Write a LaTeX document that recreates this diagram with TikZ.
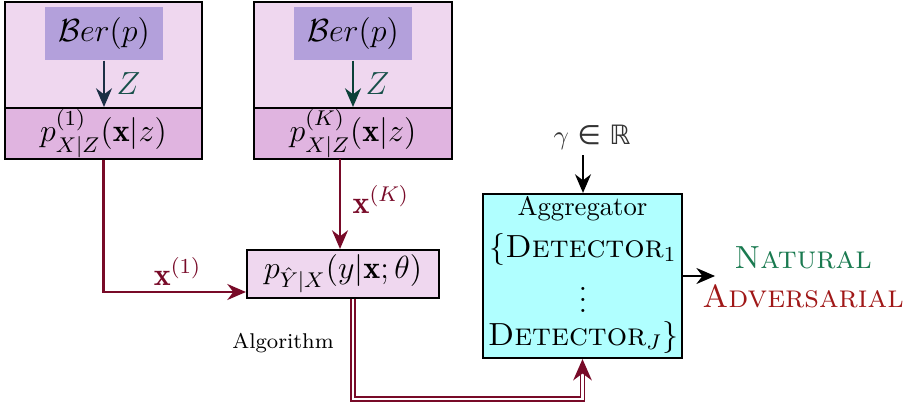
\documentclass[tikz,border=0pt]{standalone}
\usepackage{amsmath,amssymb}
\usepackage{fontspec}
\newfontfamily\djv{DejaVu Sans}
\usetikzlibrary{arrows.meta,calc}
\definecolor{outerfill}{HTML}{EFD7EF}
\definecolor{lowerfill}{HTML}{E0B4E0}
\definecolor{berfill}{HTML}{B3A0DB}
\definecolor{maroonc}{HTML}{780A28}
\definecolor{navyc}{HTML}{1B2F45}
\definecolor{tealc}{HTML}{0B4038}
\definecolor{zc}{HTML}{17504A}
\definecolor{cyanfill}{HTML}{B0FFFF}
\definecolor{natc}{HTML}{1A7A50}
\definecolor{advc}{HTML}{A01818}
\definecolor{gammac}{HTML}{333333}
\tikzset{
  boxa/.style={draw=black, line width=0.8pt, fill=outerfill, inner sep=0pt},
  boxb/.style={draw=black, line width=0.8pt, fill=lowerfill, inner sep=0pt, font=\large},
  berbox/.style={fill=berfill, inner sep=0pt, minimum width=44.25pt, minimum height=19.9pt, font=\large},
  conn/.style={draw=maroonc, line width=0.8pt, -{Stealth[length=7pt,width=6pt]}},
  zarrow/.style={line width=0.8pt, -{Stealth[length=7pt,width=6pt]}},
  blk/.style={draw=black, line width=0.7pt, -{Stealth[length=7pt,width=6pt]}},
  aggtxt/.style={inner sep=0pt, font=\large},
}
\begin{document}
\begin{tikzpicture}[x=0.375pt,y=-0.375pt]
\useasboundingbox (0,0) rectangle (904,406);
% left group
\node[boxa, minimum width=73.9pt, minimum height=39.75pt] (u1) at (103.5,55) {};
\node[boxb, minimum width=73.9pt, minimum height=19.1pt] (l1) at (103.5,133.5) {$p^{(1)}_{X|Z}(\mathbf{x}|z)$};
\node[berbox] (b1) at (104,33.5) {$\mathcal{B}er(p)$};
\draw[zarrow, navyc] (b1.south) -- (b1.south |- l1.north) node[midway, right, text=zc, xshift=1pt, font=\large] {$Z$};
% right group
\node[boxa, minimum width=74.25pt, minimum height=39.75pt] (uK) at (353,55) {};
\node[boxb, minimum width=74.25pt, minimum height=19.1pt] (lK) at (353,133.5) {$p^{(K)}_{X|Z}(\mathbf{x}|z)$};
\node[berbox] (bK) at (353,33.5) {$\mathcal{B}er(p)$};
\draw[zarrow, tealc] (bK.south) -- (bK.south |- lK.north) node[midway, right, text=zc, xshift=1pt, font=\large] {$Z$};
% middle
\node[boxa, minimum width=72pt, minimum height=18pt, font=\large] (mid) at (343,274) {$p_{\hat{Y}|X}(y|\mathbf{x};\theta)$};
\coordinate (kx) at (340,159);
\draw[conn] (kx) -- (kx |- mid.north) node[pos=0.45, right, text=maroonc, xshift=1pt, font=\large] {$\mathbf{x}^{(K)}$};
\draw[conn] (l1.south) |- ([yshift=-6.75pt]mid.west) node[pos=0.76, above, text=maroonc, font=\large, inner sep=2pt] {$\mathbf{x}^{(1)}$};
\node[font=\footnotesize] (alg) at (283,343) {Algorithm};
% aggregator
\node[draw=black, line width=0.8pt, fill=cyanfill, minimum width=74.6pt, minimum height=61.5pt, inner sep=0pt] (agg) at (582.5,276) {};
\node[inner sep=0pt] (aggl) at (582.5,209) {Aggregator};
\node[aggtxt] (d1) at (583,249) {$\{$\textsc{Detector}$_1$};
\node[aggtxt] (dd) at (583,292) {$\vdots$};
\node[aggtxt] (dJ) at (583,337) {\textsc{Detector}$_J\}$};
\node[text=gammac] (gam) at (592,137) {$\gamma$ {\djv ∈ ℝ}};
\coordinate (gx) at (583,155);
\draw[blk] (gx) -- (gx |- agg.north);
\draw[blk] (agg.east) -- ++(32,0);
\node[text=natc, font=\large] (nat) at (803,258) {\textsc{Natural}};
\node[text=advc, font=\large] (adv) at (803,296) {\textsc{Adversarial}};
% double line
\coordinate (dx) at ([xshift=3.75pt]mid.south);
\draw[draw=maroonc, double=white, double distance=0.8pt, line width=0.6pt, -{Stealth[length=8pt,width=7pt]}] (dx) -- ++(0,100) -| (agg.south);
\end{tikzpicture}
\end{document}
